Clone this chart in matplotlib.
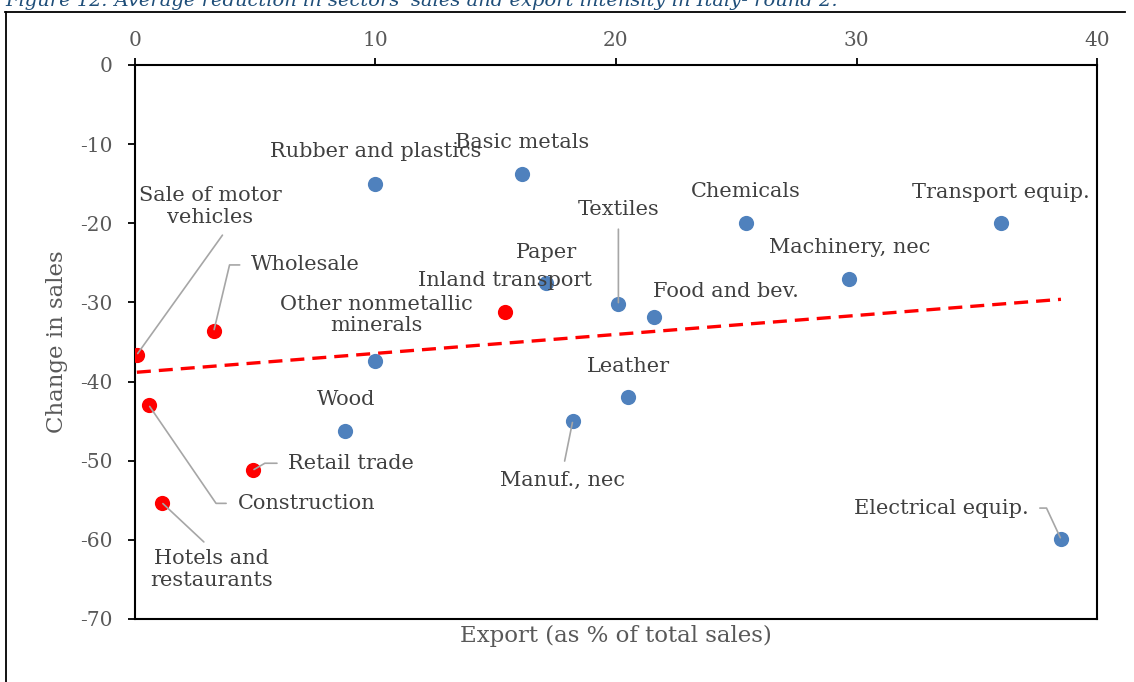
import numpy as np
import matplotlib.pyplot as plt
from matplotlib.lines import Line2D

# Sectors: export share (% of total sales) and change in sales
red_names = ['Sale of motor\nvehicles', 'Wholesale', 'Inland transport',
             'Construction', 'Retail trade', 'Hotels and\nrestaurants']
red_export = [0.08, 3.28, 15.4, 0.58, 4.9, 1.12]
red_change = [-36.6, -33.6, -31.2, -43.0, -51.2, -55.3]

blue_names = ['Rubber and plastics', 'Basic metals', 'Paper', 'Textiles',
              'Food and bev.', 'Chemicals', 'Transport equip.', 'Machinery, nec',
              'Other nonmetallic\nminerals', 'Wood', 'Manuf., nec', 'Leather',
              'Electrical equip.']
blue_export = [9.98, 16.1, 17.1, 20.1, 21.6, 25.4, 36.0, 29.7, 9.98, 8.73, 18.2, 20.5, 38.5]
blue_change = [-15.0, -13.8, -27.5, -30.2, -31.8, -20.0, -20.0, -27.0, -37.4, -46.2, -45.0, -42.0, -59.9]

x_ticks = [0, 10, 20, 30, 40]
y_ticks = [0, -10, -20, -30, -40, -50, -60, -70]

# label placement: (dx, dy) offset in points, ha, leader style
# leader: None, ('line', relpos, shrinkA) or ('angle', relpos, shrinkA, angleB)
label_layout = {
    'Sale of motor\nvehicles': ((52.6, 106.6), 'center', ('line', (0.63, 0.0), 5)),
    'Wholesale': ((26.6, 47.5), 'left', ('angle', (0.0, 0.5), 6, 76.6)),
    'Inland transport': ((0, 22.3), 'center', None),
    'Construction': ((64.1, -70.6), 'left', ('angle', (0.0, 0.5), 6.5, -55.6)),
    'Retail trade': ((25.2, 5.0), 'left', ('angle', (0.0, 0.5), 5.8, 30)),
    'Hotels and\nrestaurants': ((36, -48.2), 'center', ('line', (0.5, 1.0), 5)),
    'Rubber and plastics': ((0.7, 23), 'center', None),
    'Basic metals': ((0, 23), 'center', None),
    'Paper': ((0, 21.6), 'center', None),
    'Textiles': ((0, 67.7), 'center', ('line', (0.5, 0.0), 5)),
    'Food and bev.': ((51.8, 18), 'center', None),
    'Chemicals': ((0, 23), 'center', None),
    'Transport equip.': ((0, 22.3), 'center', None),
    'Machinery, nec': ((0, 22.3), 'center', None),
    'Other nonmetallic\nminerals': ((0.7, 33), 'center', None),
    'Wood': ((0.7, 22.3), 'center', None),
    'Manuf., nec': ((-7.2, -42.5), 'center', ('line', (0.5, 1.0), 5)),
    'Leather': ((0, 22.3), 'center', None),
    'Electrical equip.': ((-23, 22.3), 'right', ('angle', (1.0, 0.5), 5.8, 115)),
}

plt.rcParams['font.family'] = 'DejaVu Serif'
plt.rcParams['axes.unicode_minus'] = False

fig = plt.figure(figsize=(11.34, 6.82), dpi=100)
ax = fig.add_axes([0.1190, 0.0924, 0.8484, 0.8123])

# outer frame and cropped caption
fig.add_artist(Line2D([5.5 / 1134, 5.5 / 1134], [0, 1 - 12 / 682],
                      color='black', lw=1.3, transform=fig.transFigure))
fig.add_artist(Line2D([5 / 1134, 1125 / 1134], [1 - 12 / 682, 1 - 12 / 682],
                      color='black', lw=1.3, transform=fig.transFigure))
fig.text(0.005, 1 - 1 / 682,
         "Figure 12: Average reduction in sectors' sales and export intensity in Italy- round 2.",
         fontsize=14, style='italic', color='#1F4E79', va='center', ha='left')

ax.scatter(blue_export, blue_change, s=120, color='#4F81BD', zorder=3, linewidths=0)
ax.scatter(red_export, red_change, s=120, color='#FF0000', zorder=3, linewidths=0)

# linear trend over all sectors
all_x = np.array(red_export + blue_export)
all_y = np.array(red_change + blue_change)
slope, intercept = np.polyfit(all_x, all_y, 1)
xs = np.array([all_x.min(), all_x.max()])
ax.plot(xs, slope * xs + intercept, color='#FF0000', lw=2.4, dashes=(4.2, 2.4), zorder=2)

names = red_names + blue_names
for name, x, y in zip(names, all_x, all_y):
    (dx, dy), ha, leader = label_layout[name]
    arrowprops = None
    if leader is not None:
        arrowprops = dict(arrowstyle='-', color='#A6A6A6', lw=1.2,
                          relpos=leader[1], shrinkA=leader[2], shrinkB=1)
        if leader[0] == 'angle':
            arrowprops['connectionstyle'] = f'angle,angleA=0,angleB={leader[3]},rad=0'
    ax.annotate(name, xy=(x, y), xytext=(dx, dy), textcoords='offset points',
                ha=ha, va='center', multialignment='center', fontsize=15,
                color='#404040', arrowprops=arrowprops, linespacing=1.15, zorder=4)

ax.set_xlim(0, 40)
ax.set_ylim(-70, 0)
ax.set_xticks(x_ticks)
ax.set_yticks(y_ticks)
ax.xaxis.tick_top()
ax.xaxis.set_label_position('bottom')
ax.tick_params(axis='x', direction='out', length=5, width=1.3, pad=6,
               labelsize=14.5, labelcolor='#595959')
ax.tick_params(axis='y', direction='out', length=5, width=1.3, pad=11,
               labelsize=14.5, labelcolor='#595959')
for spine in ax.spines.values():
    spine.set_linewidth(1.5)
    spine.set_color('black')

ax.set_xlabel('Export (as % of total sales)', fontsize=16.5, color='#595959', labelpad=4)
ax.set_ylabel('Change in sales', fontsize=16.5, color='#595959', labelpad=9)

plt.savefig('out.png', dpi=100)
